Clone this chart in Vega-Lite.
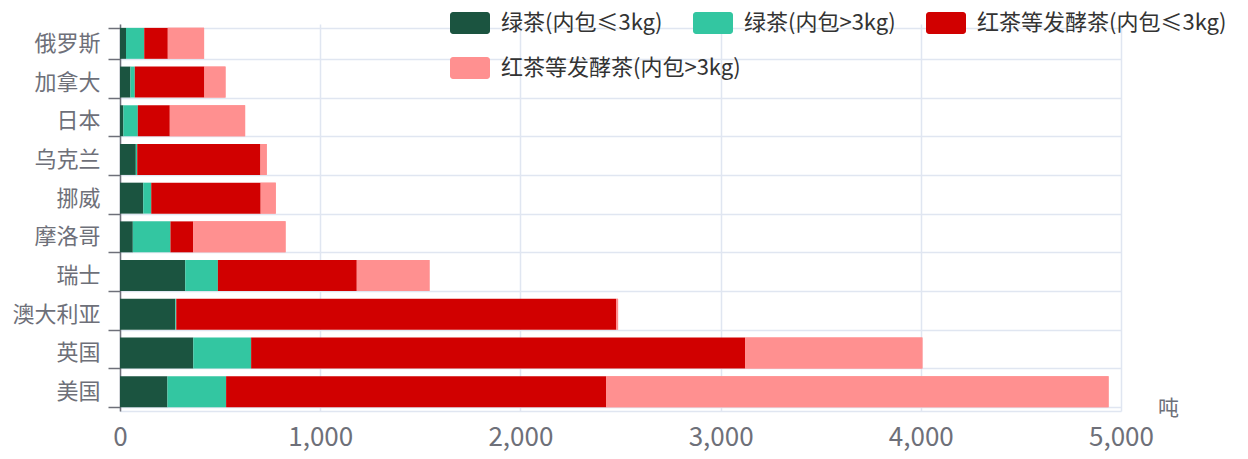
{
  "$schema": "https://vega.github.io/schema/vega-lite/v6.json",
  "width": 1001,
  "height": 387,
  "autosize": {"type": "none"},
  "padding": {"left": 120, "top": 24, "right": 127, "bottom": 48},
  "background": "white",
  "config": {
    "font": "Noto Sans CJK SC",
    "view": {"stroke": null}
  },
  "data": {
    "values": [
      {"country": "俄罗斯", "type": "绿茶(内包≤3kg)", "ord": 1, "value": 30},
      {"country": "俄罗斯", "type": "绿茶(内包>3kg)", "ord": 2, "value": 91},
      {"country": "俄罗斯", "type": "红茶等发酵茶(内包≤3kg)", "ord": 3, "value": 118},
      {"country": "俄罗斯", "type": "红茶等发酵茶(内包>3kg)", "ord": 4, "value": 181},
      {"country": "加拿大", "type": "绿茶(内包≤3kg)", "ord": 1, "value": 52},
      {"country": "加拿大", "type": "绿茶(内包>3kg)", "ord": 2, "value": 22},
      {"country": "加拿大", "type": "红茶等发酵茶(内包≤3kg)", "ord": 3, "value": 348},
      {"country": "加拿大", "type": "红茶等发酵茶(内包>3kg)", "ord": 4, "value": 105},
      {"country": "日本", "type": "绿茶(内包≤3kg)", "ord": 1, "value": 17},
      {"country": "日本", "type": "绿茶(内包>3kg)", "ord": 2, "value": 72},
      {"country": "日本", "type": "红茶等发酵茶(内包≤3kg)", "ord": 3, "value": 160},
      {"country": "日本", "type": "红茶等发酵茶(内包>3kg)", "ord": 4, "value": 376},
      {"country": "乌克兰", "type": "绿茶(内包≤3kg)", "ord": 1, "value": 79},
      {"country": "乌克兰", "type": "绿茶(内包>3kg)", "ord": 2, "value": 7},
      {"country": "乌克兰", "type": "红茶等发酵茶(内包≤3kg)", "ord": 3, "value": 616},
      {"country": "乌克兰", "type": "红茶等发酵茶(内包>3kg)", "ord": 4, "value": 31},
      {"country": "挪威", "type": "绿茶(内包≤3kg)", "ord": 1, "value": 116},
      {"country": "挪威", "type": "绿茶(内包>3kg)", "ord": 2, "value": 40},
      {"country": "挪威", "type": "红茶等发酵茶(内包≤3kg)", "ord": 3, "value": 547},
      {"country": "挪威", "type": "红茶等发酵茶(内包>3kg)", "ord": 4, "value": 75},
      {"country": "摩洛哥", "type": "绿茶(内包≤3kg)", "ord": 1, "value": 64},
      {"country": "摩洛哥", "type": "绿茶(内包>3kg)", "ord": 2, "value": 188},
      {"country": "摩洛哥", "type": "红茶等发酵茶(内包≤3kg)", "ord": 3, "value": 114},
      {"country": "摩洛哥", "type": "红茶等发酵茶(内包>3kg)", "ord": 4, "value": 461},
      {"country": "瑞士", "type": "绿茶(内包≤3kg)", "ord": 1, "value": 326},
      {"country": "瑞士", "type": "绿茶(内包>3kg)", "ord": 2, "value": 163},
      {"country": "瑞士", "type": "红茶等发酵茶(内包≤3kg)", "ord": 3, "value": 694},
      {"country": "瑞士", "type": "红茶等发酵茶(内包>3kg)", "ord": 4, "value": 363},
      {"country": "澳大利亚", "type": "绿茶(内包≤3kg)", "ord": 1, "value": 276},
      {"country": "澳大利亚", "type": "绿茶(内包>3kg)", "ord": 2, "value": 5},
      {"country": "澳大利亚", "type": "红茶等发酵茶(内包≤3kg)", "ord": 3, "value": 2197},
      {"country": "澳大利亚", "type": "红茶等发酵茶(内包>3kg)", "ord": 4, "value": 10},
      {"country": "英国", "type": "绿茶(内包≤3kg)", "ord": 1, "value": 366},
      {"country": "英国", "type": "绿茶(内包>3kg)", "ord": 2, "value": 289},
      {"country": "英国", "type": "红茶等发酵茶(内包≤3kg)", "ord": 3, "value": 2468},
      {"country": "英国", "type": "红茶等发酵茶(内包>3kg)", "ord": 4, "value": 885},
      {"country": "美国", "type": "绿茶(内包≤3kg)", "ord": 1, "value": 237},
      {"country": "美国", "type": "绿茶(内包>3kg)", "ord": 2, "value": 293},
      {"country": "美国", "type": "红茶等发酵茶(内包≤3kg)", "ord": 3, "value": 1899},
      {"country": "美国", "type": "红茶等发酵茶(内包>3kg)", "ord": 4, "value": 2509}
    ]
  },
  "transform": [
    {"stack": "value", "groupby": ["country"], "sort": [{"field": "ord", "order": "ascending"}], "as": ["x0", "x1"]}
  ],
  "encoding": {
    "y": {
      "field": "country",
      "type": "nominal",
      "sort": ["俄罗斯", "加拿大", "日本", "乌克兰", "挪威", "摩洛哥", "瑞士", "澳大利亚", "英国", "美国"],
      "scale": {"paddingInner": 0.2, "paddingOuter": 0.1},
      "axis": {
        "title": null,
        "tickBand": "extent",
        "grid": true,
        "gridColor": "#e0e6f1",
        "gridWidth": 1.5,
        "domainColor": "#6e7079",
        "domainWidth": 1.5,
        "tickColor": "#6e7079",
        "tickWidth": 1.5,
        "tickSize": 12,
        "labelPadding": 8,
        "labelFontSize": 22,
        "labelColor": "#6e7079"
      }
    },
    "x": {
      "field": "x0",
      "type": "quantitative",
      "scale": {"domain": [0, 5000], "nice": false},
      "axis": {
        "values": [0, 1000, 2000, 3000, 4000, 5000],
        "format": ",.0f",
        "grid": true,
        "gridColor": "#e0e6f1",
        "gridWidth": 1.5,
        "domainColor": "#e0e6f1",
        "domainWidth": 1.5,
        "ticks": false,
        "tickSize": 0,
        "labelPadding": 13,
        "labelFontSize": 26,
        "labelColor": "#6e7079",
        "labelFlush": false,
        "title": "吨",
        "titleX": 1048,
        "titleY": -3,
        "titleAngle": 0,
        "titleAlign": "center",
        "titleBaseline": "middle",
        "titleFontSize": 21,
        "titleFontWeight": "normal",
        "titleColor": "#6e7079"
      }
    },
    "x2": {"field": "x1"}
  },
  "layer": [
    {
      "mark": {"type": "bar", "strokeWidth": 0},
      "encoding": {
        "color": {
          "field": "type",
          "type": "nominal",
          "scale": {
            "domain": ["绿茶(内包≤3kg)", "绿茶(内包>3kg)", "红茶等发酵茶(内包≤3kg)", "红茶等发酵茶(内包>3kg)"],
            "range": ["#1b5440", "#33c6a1", "#d10000", "#ff9090"]
          },
          "legend": {
            "title": null,
            "values": ["绿茶(内包≤3kg)", "绿茶(内包>3kg)", "红茶等发酵茶(内包≤3kg)"],
            "orient": "none",
            "legendX": 330,
            "legendY": -21,
            "direction": "horizontal",
            "columns": 3,
            "symbolType": "M-0.85,-0.55H0.85A0.15,0.15 0 0 1 1,-0.4V0.4A0.15,0.15 0 0 1 0.85,0.55H-0.85A0.15,0.15 0 0 1 -1,0.4V-0.4A0.15,0.15 0 0 1 -0.85,-0.55Z",
            "symbolSize": 1600,
            "symbolStrokeWidth": 0,
            "symbolOpacity": 1,
            "labelFontSize": 22,
            "labelColor": "#333333",
            "labelOffset": 11,
            "labelLimit": 400,
            "columnPadding": 30
          }
        }
      }
    },
    {
      "transform": [{"filter": "datum.ord == 4"}],
      "mark": {"type": "bar", "strokeWidth": 0},
      "encoding": {
        "fill": {
          "field": "type",
          "type": "nominal",
          "scale": {
            "domain": ["红茶等发酵茶(内包>3kg)"],
            "range": ["#ff9090"]
          },
          "legend": {
            "title": null,
            "orient": "none",
            "legendX": 330,
            "legendY": 24,
            "direction": "horizontal",
            "symbolType": "M-0.85,-0.55H0.85A0.15,0.15 0 0 1 1,-0.4V0.4A0.15,0.15 0 0 1 0.85,0.55H-0.85A0.15,0.15 0 0 1 -1,0.4V-0.4A0.15,0.15 0 0 1 -0.85,-0.55Z",
            "symbolSize": 1600,
            "symbolStrokeWidth": 0,
            "symbolOpacity": 1,
            "labelFontSize": 22,
            "labelColor": "#333333",
            "labelOffset": 11,
            "labelLimit": 400
          }
        }
      }
    }
  ]
}
